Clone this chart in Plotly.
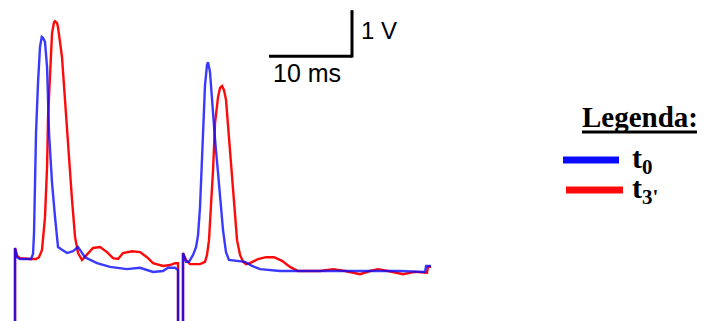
import plotly.graph_objects as go

# time in ms, voltage in V
t_blue = [0, 0, 0.24, 0.60, 1.93, 2.17, 2.29, 2.53, 2.77, 3.01, 3.22, 3.37, 3.61, 3.86, 4.10, 4.46, 4.82, 5.18,
          5.66, 6.27, 6.99, 7.59, 8.43, 9.88, 11.45, 13.49, 15.06, 16.63, 17.83, 18.43, 19.28, 19.64, 19.64,
          20.24, 20.24, 20.60, 20.96, 21.45, 21.81, 22.05, 22.29, 22.53, 22.65, 22.89, 23.13, 23.25, 23.49,
          23.73, 24.10, 24.46, 24.82, 25.06, 25.42, 25.78, 27.71, 28.55, 29.52, 31.93, 39.16, 46.39, 49.40,
          49.52, 50.12]
v_blue = [-1.5, 0.50, 0.30, 0.26, 0.26, 0.37, 0.83, 3.00, 4.09, 4.87, 5.09, 5.07, 4.98, 4.43, 3.00, 1.91, 1.17, 0.52,
          0.46, 0.39, 0.43, 0.52, 0.30, 0.17, 0.09, 0.04, 0.07, -0.02, 0.0, 0.07, 0.07, 0.02, -1.5,
          -1.5, 0.39, 0.20, 0.20, 0.35, 0.52, 0.78, 1.39, 2.41, 3.22, 4.04, 4.48, 4.54, 4.33,
          3.72, 2.85, 2.13, 1.33, 0.89, 0.41, 0.24, 0.20, 0.11, 0.04, 0.0, 0.0, 0.0, -0.02,
          0.11, 0.11]

t_red = [0, 0, 0.24, 0.60, 1.81, 2.53, 2.89, 3.25, 3.61, 3.86, 3.98, 4.22, 4.46, 4.70, 4.82, 5.06, 5.18, 5.66,
         6.02, 6.39, 6.87, 7.23, 7.59, 8.07, 8.67, 9.40, 10.24, 11.08, 11.81, 12.41, 13.01, 14.10, 15.06, 15.90,
         16.63, 17.83, 18.67, 19.28, 19.64, 19.64, 20.24, 20.24, 20.60, 21.08, 22.29, 22.89, 23.13, 23.37, 23.61,
         23.86, 24.10, 24.46, 24.70, 24.94, 25.18, 25.42, 25.66, 25.90, 26.14, 26.39, 26.75, 27.11, 27.47, 27.83,
         28.31, 29.28, 30.24, 31.20, 32.17, 33.13, 34.10, 36.75, 38.31, 39.76, 41.57, 42.77, 43.73, 44.94, 46.75,
         48.19, 49.64, 49.76, 50.12]
v_red = [-1.5, 0.50, 0.33, 0.28, 0.26, 0.26, 0.30, 0.46, 1.17, 2.26, 3.35, 4.43, 5.17, 5.41, 5.43, 5.39, 5.30, 4.65,
         3.72, 2.63, 1.54, 0.74, 0.39, 0.24, 0.35, 0.50, 0.52, 0.41, 0.28, 0.26, 0.39, 0.43, 0.41, 0.30,
         0.17, 0.11, 0.13, 0.17, 0.17, -1.5, -1.5, 0.39, 0.24, 0.15, 0.15, 0.20, 0.35, 0.67, 1.43,
         2.20, 3.22, 3.78, 3.98, 4.02, 3.93, 3.72, 3.17, 2.63, 1.98, 1.39, 0.67, 0.35, 0.20, 0.15,
         0.17, 0.26, 0.30, 0.30, 0.22, 0.09, 0.0, 0.0, 0.04, 0.0, -0.07, 0.0, 0.04, 0.0, -0.07,
         -0.02, -0.04, 0.09, 0.09]

scale_t = [30.60, 40.60]      # 10 ms bar
scale_v = [4.67, 5.67]        # 1 V bar
scale_labels = ["10 ms", "1 V"]
legend_title = "Legenda:"
legend_labels = ["t<sub>0</sub>", "t<sub>3'</sub>"]
colors = ["#0a0aff", "#ff0a0a"]

W, H = 705, 321
def px(x):
    return x / W
def py(y):
    return 1 - y / H

fig = go.Figure()
fig.add_trace(go.Scatter(x=t_red, y=v_red, mode="lines", line=dict(color=colors[1], width=2.4),
                         showlegend=False, hoverinfo="skip"))
fig.add_trace(go.Scatter(x=t_blue, y=v_blue, mode="lines", line=dict(color=colors[0], width=2.4),
                         opacity=0.8, showlegend=False, hoverinfo="skip"))

# scale bar
fig.add_shape(type="line", xref="x", yref="y", x0=scale_t[0], x1=scale_t[1], y0=scale_v[0], y1=scale_v[0],
              line=dict(color="black", width=3))
fig.add_shape(type="line", xref="x", yref="y", x0=scale_t[1], x1=scale_t[1], y0=scale_v[0] - 0.03, y1=scale_v[1],
              line=dict(color="black", width=3))
fig.add_annotation(x=(scale_t[0] + scale_t[1]) / 2 - 0.45, y=scale_v[0] - 0.36, xref="x", yref="y",
                   text=scale_labels[0], showarrow=False, xanchor="center", yanchor="middle",
                   font=dict(family="Liberation Sans, Arial", size=25, color="black"))
fig.add_annotation(x=scale_t[1] + 0.9, y=(scale_v[0] + scale_v[1]) / 2 + 0.05, xref="x", yref="y",
                   text=scale_labels[1], showarrow=False, xanchor="left", yanchor="middle",
                   font=dict(family="Liberation Sans, Arial", size=24, color="black"))

# legend
serif = "Liberation Serif, Times New Roman"
fig.add_annotation(x=px(640), y=py(117), xref="paper", yref="paper", text="<b>" + legend_title + "</b>",
                   showarrow=False, xanchor="center", yanchor="middle",
                   font=dict(family=serif, size=29, color="black"))
fig.add_shape(type="line", xref="paper", yref="paper", x0=px(582), x1=px(697), y0=py(132), y1=py(132),
              line=dict(color="black", width=3))
for i, (x0, x1, yy) in enumerate([(563, 619, 160), (566, 623, 190)]):
    fig.add_shape(type="line", xref="paper", yref="paper", x0=px(x0), x1=px(x1), y0=py(yy), y1=py(yy),
                  line=dict(color=colors[i], width=7))
    fig.add_annotation(x=px(630), y=py(yy), xref="paper", yref="paper", xanchor="left", yanchor="middle",
                       text="<b>" + legend_labels[i] + "</b>", showarrow=False,
                       font=dict(family=serif, size=30, color="black"))

fig.update_layout(width=W, height=H, margin=dict(l=0, r=0, t=0, b=0),
                  paper_bgcolor="white", plot_bgcolor="white",
                  xaxis=dict(range=[-1.81, 83.13], visible=False, fixedrange=True),
                  yaxis=dict(range=[-1.087, 5.891], visible=False, fixedrange=True),
                  showlegend=False)
fig.write_html("out.html", config={"displayModeBar": False},
               post_script="document.body.style.margin='0';document.body.style.overflow='hidden';")
